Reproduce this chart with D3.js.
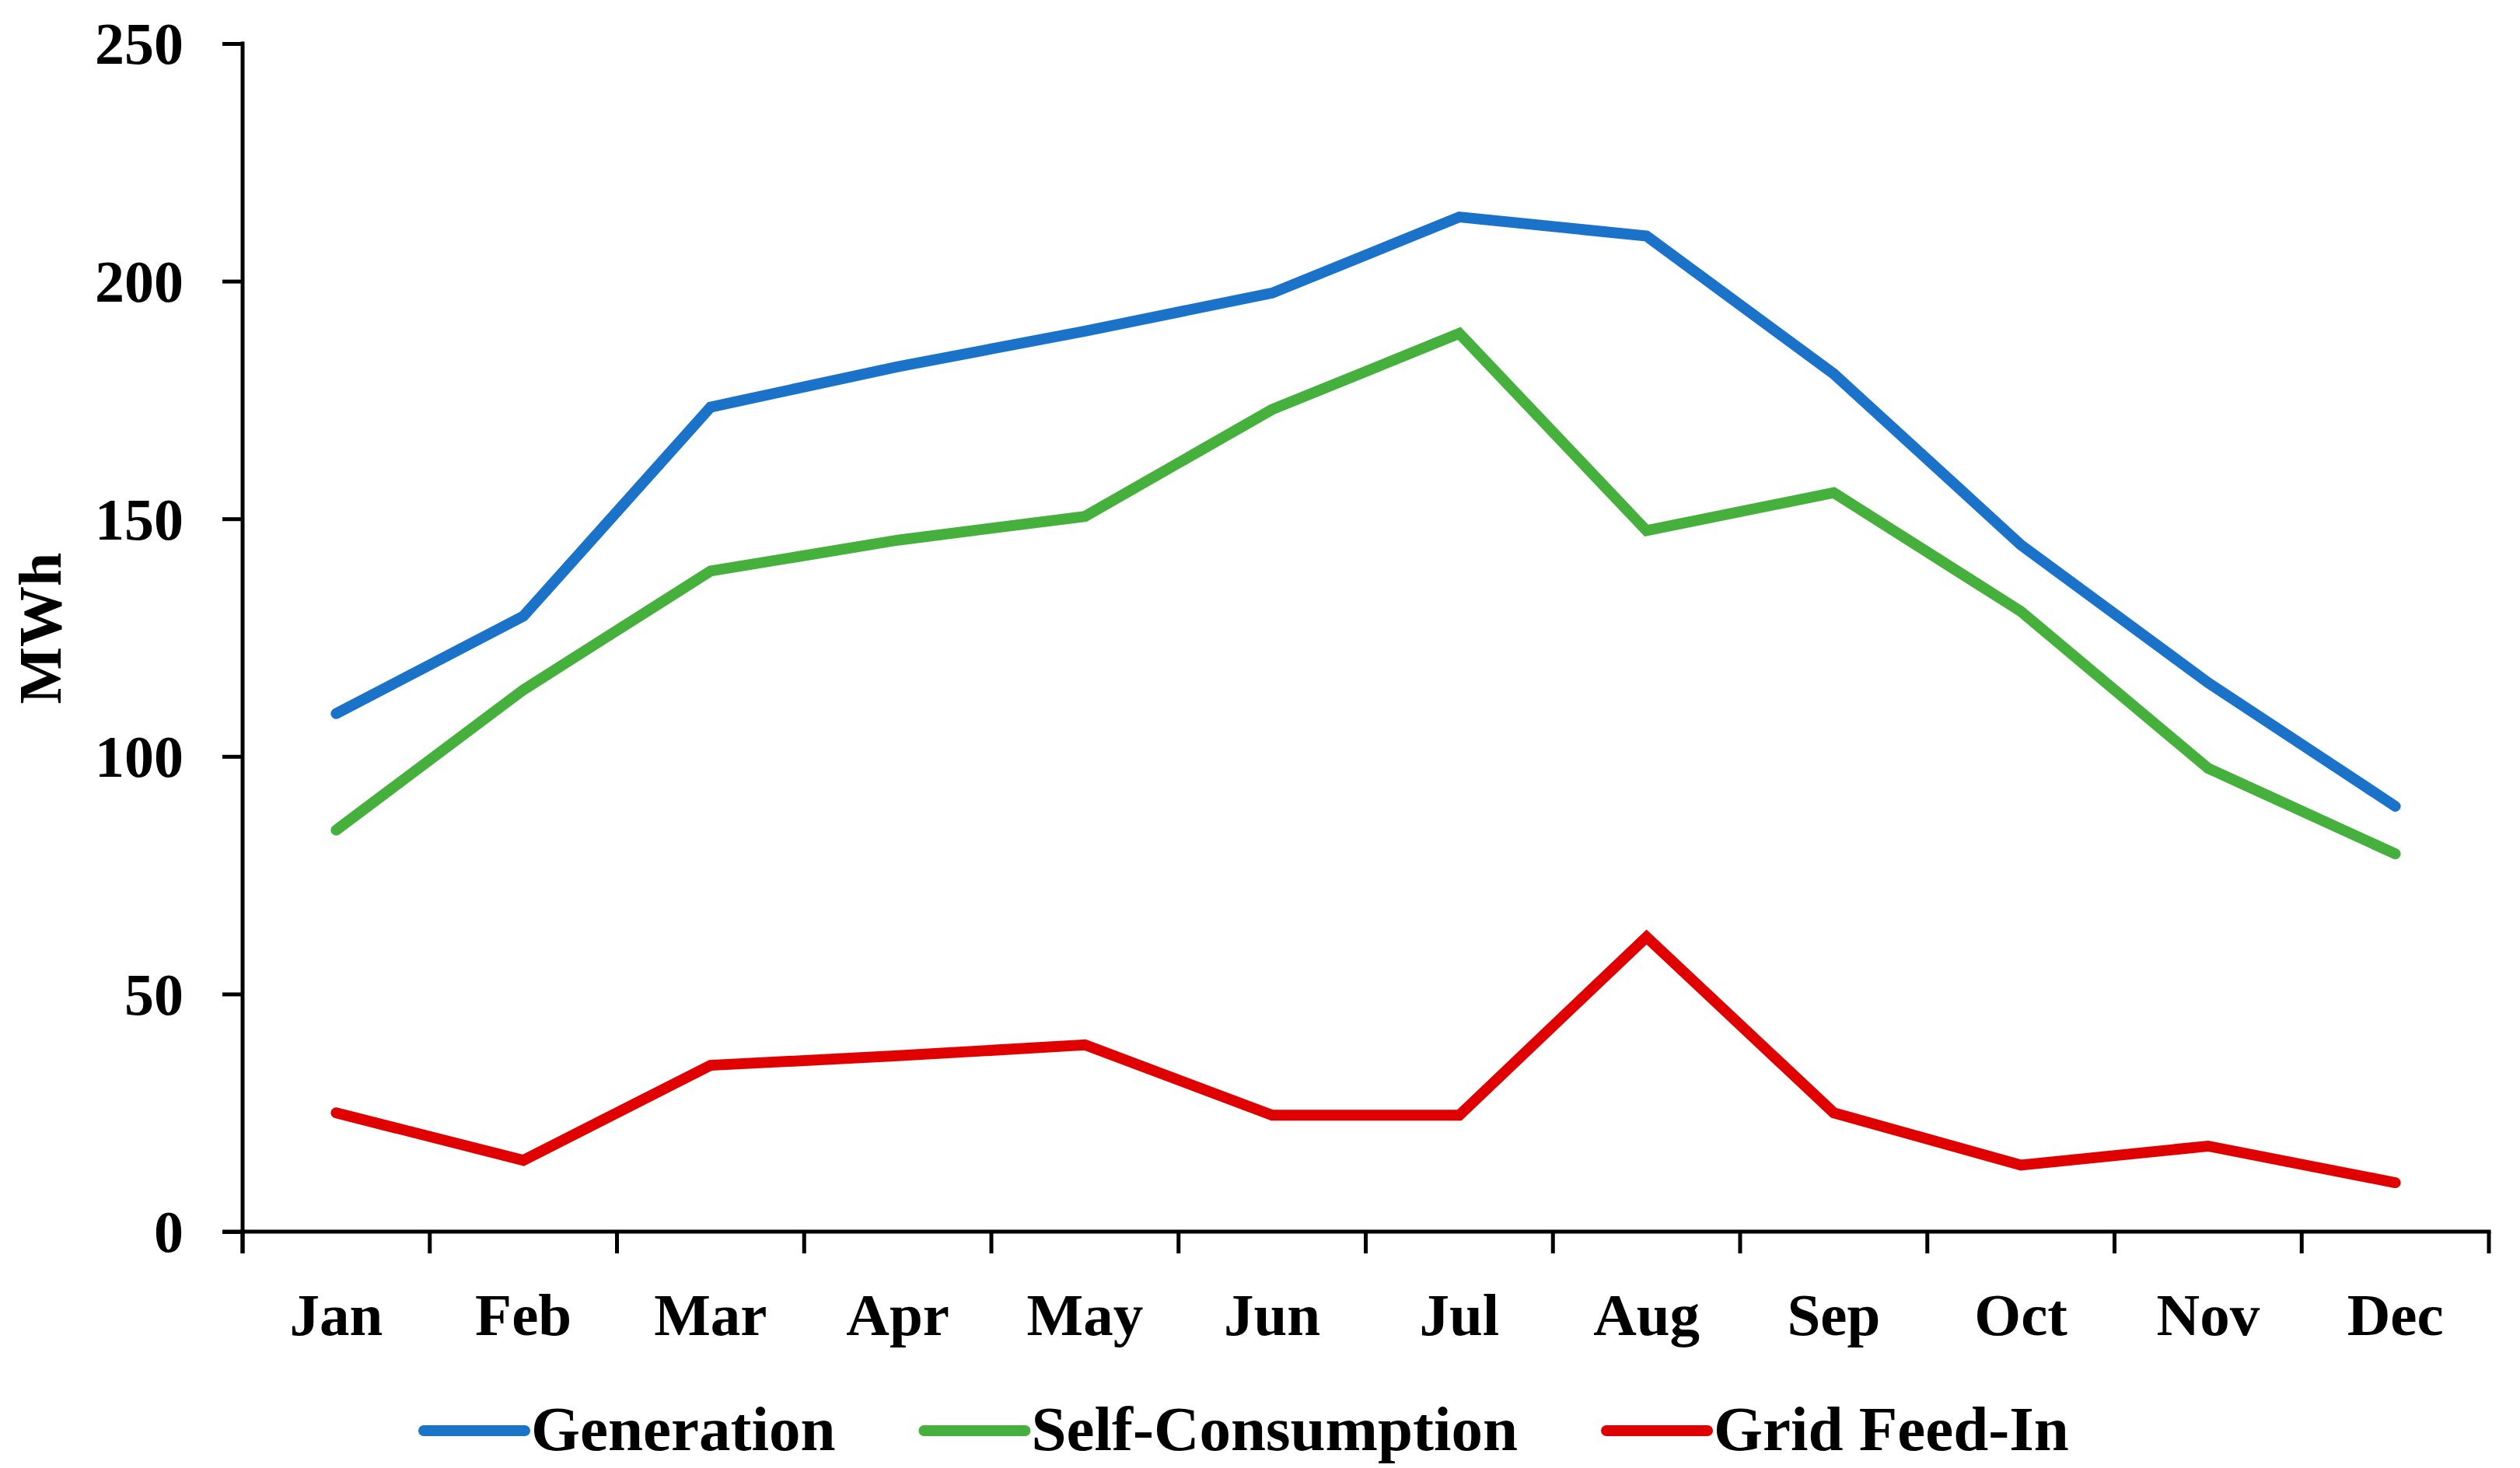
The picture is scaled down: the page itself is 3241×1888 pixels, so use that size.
<!DOCTYPE html>
<html>
<head>
<meta charset="utf-8">
<script src="https://cdn.jsdelivr.net/npm/d3@7"></script>
<style>
  html, body { margin: 0; padding: 0; background: #fff; }
  svg { display: block; }
  text { font-family: "Liberation Serif", "DejaVu Serif", serif; font-weight: bold; fill: #000; }
</style>
</head>
<body>
<svg id="chart" width="3241" height="1888"></svg>
<script>
const months = ["Jan","Feb","Mar","Apr","May","Jun","Jul","Aug","Sep","Oct","Nov","Dec"];
const generation = [109, 129.5, 173.5, 182, 189.5, 197.5, 213.5, 209.5, 180.5, 144.5, 115.5, 89.5];
const selfConsumption = [84.5, 114, 139, 145.5, 150.5, 173, 189, 147.5, 155.5, 130.5, 97.5, 79.5];
const gridFeedIn = [25, 15, 35, 37, 39.3, 24.5, 24.5, 62, 25, 14, 18, 10.3];
const yTicks = [0, 50, 100, 150, 200, 250];
const seriesNames = ["Generation", "Self-Consumption", "Grid Feed-In"];
const seriesColors = ["#1a73c9", "#46b03c", "#e00000"];
const yLabel = "MWh";

const series = [generation, selfConsumption, gridFeedIn].map((vals, i) => ({
  name: seriesNames[i], color: seriesColors[i], values: vals
}));

const svg = d3.select("#chart");
const pLeft = 312, pRight = 3201, pTop = 56, pBottom = 1584;

const x = d3.scaleBand().domain(months).range([pLeft, pRight]);
const y = d3.scaleLinear().domain([0, 250]).range([pBottom, pTop]);

// Y axis
const yAxis = svg.append("g").attr("transform", `translate(${pLeft},0)`)
  .call(d3.axisLeft(y).tickValues(yTicks).tickSize(26).tickPadding(50).tickSizeOuter(0));
yAxis.select(".domain").attr("stroke", "#000").attr("stroke-width", 5)
  .attr("d", `M0,${pTop - 2.5}V${pBottom + 28}`);
yAxis.selectAll(".tick line").attr("stroke", "#000").attr("stroke-width", 5);
yAxis.selectAll(".tick text").attr("font-size", 76).attr("dy", "0.34em")
  .style("font-family", "'Liberation Serif', serif").style("font-weight", "bold");

// X axis
const boundaries = months.map(m => x(m)).concat([pRight]);
const xAxis = svg.append("g").attr("transform", `translate(0,${pBottom})`);
xAxis.append("path").attr("d", `M${pLeft - 26},0H${pRight + 2.5}`)
  .attr("stroke", "#000").attr("stroke-width", 5).attr("fill", "none");
xAxis.selectAll("line.b").data(boundaries).join("line").attr("class", "b")
  .attr("x1", d => d).attr("x2", d => d).attr("y1", 0).attr("y2", 28)
  .attr("stroke", "#000").attr("stroke-width", 5);
xAxis.selectAll("text.m").data(months).join("text").attr("class", "m")
  .attr("x", d => x(d) + x.bandwidth() / 2).attr("y", 133)
  .attr("text-anchor", "middle").attr("font-size", 77).text(d => d);

// Y label
svg.append("text")
  .attr("transform", `translate(78,${(pTop + pBottom) / 2 - 12}) rotate(-90)`)
  .attr("text-anchor", "middle").attr("font-size", 78).text(yLabel);

// Lines
const line = d3.line()
  .x((d, i) => x(months[i]) + x.bandwidth() / 2)
  .y(d => y(d));
svg.append("g").selectAll("path").data(series).join("path")
  .attr("d", d => line(d.values))
  .attr("fill", "none").attr("stroke", d => d.color).attr("stroke-width", 14)
  .attr("stroke-linejoin", "miter").attr("stroke-linecap", "round");

// Legend
const legend = svg.append("g").attr("transform", "translate(545,0)");
const lineLen = 130, gapLT = 8, gapItem = 114, legY = 1840;
let cx = 0;
series.forEach(s => {
  const g = legend.append("g").attr("transform", `translate(${cx},0)`);
  g.append("line").attr("x1", 0).attr("x2", lineLen).attr("y1", legY).attr("y2", legY)
    .attr("stroke", s.color).attr("stroke-width", 14).attr("stroke-linecap", "round");
  const t = g.append("text").attr("x", lineLen + gapLT).attr("y", legY + 25)
    .attr("font-size", 81).text(s.name);
  const w = t.node().getComputedTextLength();
  cx += lineLen + gapLT + w + gapItem;
});
</script>
</body>
</html>
